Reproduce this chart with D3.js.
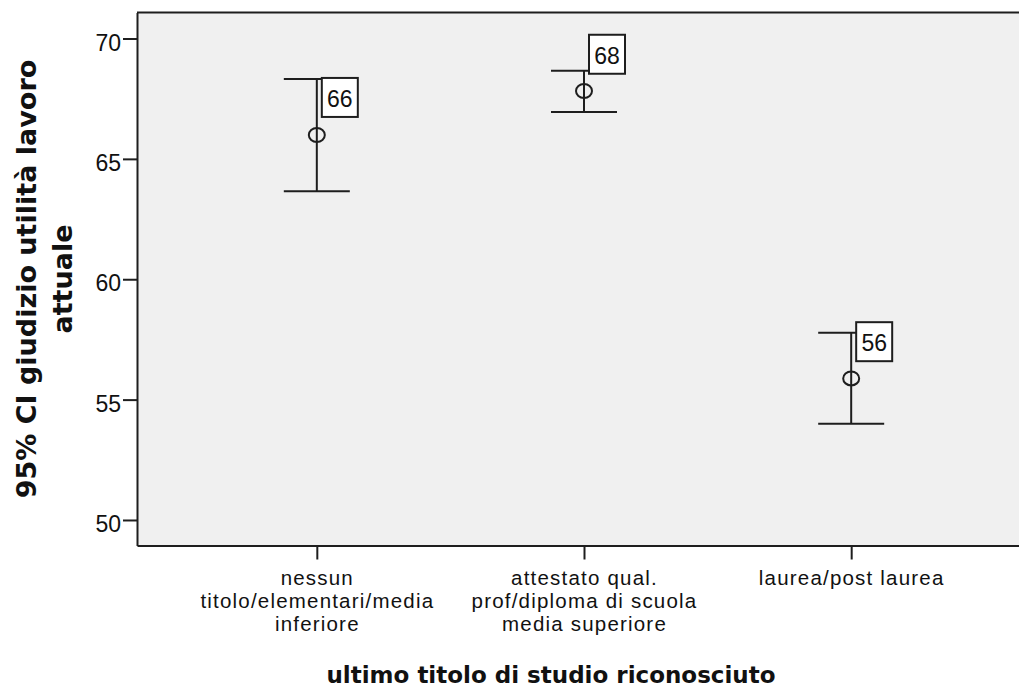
<!DOCTYPE html>
<html>
<head>
<meta charset="utf-8">
<script src="https://cdn.jsdelivr.net/npm/d3@7"></script>
<style>
  html, body { margin: 0; padding: 0; background: #ffffff; overflow: hidden; }
  svg { display: block; }
</style>
</head>
<body>
<script>
// ---- data ----
const categories = [
  "nessun\ntitolo/elementari/media\ninferiore",
  "attestato qual.\nprof/diploma di scuola\nmedia superiore",
  "laurea/post laurea"
];
const means   = [65.99, 67.82, 55.88];
const ciLower = [63.66, 66.95, 54.00];
const ciUpper = [68.32, 68.66, 57.78];
const yTicks  = [50, 55, 60, 65, 70];
const yTitleLines = ["95% CI giudizio utilità lavoro", "attuale"];
const xTitle = "ultimo titolo di studio riconosciuto";

// ---- layout ----
const W = 1019, H = 688;
const pLeft = 137, pRight = 1031, pTop = 12.5, pBottom = 545.5;
const lineColor = "#1e1e1e";
const textColor = "#111";
const tickFont = "'Liberation Sans', Arial, sans-serif";
const titleFont = "'DejaVu Sans', Verdana, sans-serif";
const labelBoxDy = [-1, -36, -10.5];

const svg = d3.select("body").append("svg").attr("width", W).attr("height", H);

const y = d3.scaleLinear().domain([48.94, 71.08]).range([pBottom, pTop]);
const x = d3.scalePoint().domain(categories).range([pLeft, pRight]).padding(0.673);

// plot background
svg.append("rect")
  .attr("x", pLeft).attr("y", pTop)
  .attr("width", pRight - pLeft).attr("height", pBottom - pTop)
  .attr("fill", "#f0f0f0");
svg.append("line")
  .attr("x1", pLeft).attr("x2", pRight)
  .attr("y1", pTop).attr("y2", pTop)
  .attr("stroke", lineColor).attr("stroke-width", 2);

// y axis
const gy = svg.append("g").attr("transform", `translate(${pLeft},0)`)
  .call(d3.axisLeft(y).tickValues(yTicks).tickSize(14).tickSizeOuter(0).tickPadding(2));
gy.selectAll("path, line").attr("stroke", lineColor).attr("stroke-width", 2);
gy.selectAll("text")
  .attr("dy", "0.5em")
  .attr("fill", textColor)
  .style("font-family", tickFont).style("font-size", "23px");

// x axis
const gx = svg.append("g").attr("transform", `translate(0,${pBottom})`)
  .call(d3.axisBottom(x).tickSize(14).tickSizeOuter(0));
gx.selectAll("path, line").attr("stroke", lineColor).attr("stroke-width", 2);
gx.selectAll("text").each(function(d) {
  const t = d3.select(this);
  t.text(null).attr("y", 39.5).attr("dy", null)
    .attr("fill", textColor)
    .style("font-family", tickFont).style("font-size", "20.5px")
    .style("letter-spacing", "1.2px");
  d.split("\n").forEach((ln, i) => {
    t.append("tspan").attr("x", 0).attr("dy", i === 0 ? 0 : 23).text(ln);
  });
});

// error bars
const capHalf = 33;
const bars = svg.append("g").selectAll("g").data(categories).join("g");
bars.append("line")
  .attr("x1", d => x(d)).attr("x2", d => x(d))
  .attr("y1", (d, i) => y(ciLower[i])).attr("y2", (d, i) => y(ciUpper[i]))
  .attr("stroke", lineColor).attr("stroke-width", 2);
bars.append("line")
  .attr("x1", d => x(d) - capHalf).attr("x2", d => x(d) + capHalf)
  .attr("y1", (d, i) => y(ciUpper[i])).attr("y2", (d, i) => y(ciUpper[i]))
  .attr("stroke", lineColor).attr("stroke-width", 2);
bars.append("line")
  .attr("x1", d => x(d) - capHalf).attr("x2", d => x(d) + capHalf)
  .attr("y1", (d, i) => y(ciLower[i])).attr("y2", (d, i) => y(ciLower[i]))
  .attr("stroke", lineColor).attr("stroke-width", 2);
bars.append("ellipse")
  .attr("cx", d => x(d)).attr("cy", (d, i) => y(means[i]))
  .attr("rx", 8).attr("ry", 7)
  .attr("fill", "none").attr("stroke", lineColor).attr("stroke-width", 2);

// value labels
const boxW = 36, boxH = 39;
const lbl = bars.append("g")
  .attr("transform", (d, i) => `translate(${x(d) + 5},${y(ciUpper[i]) + labelBoxDy[i]})`);
lbl.append("rect")
  .attr("x", 0).attr("y", 0).attr("width", boxW).attr("height", boxH)
  .attr("fill", "#ffffff").attr("stroke", lineColor).attr("stroke-width", 2);
lbl.append("text")
  .attr("x", boxW / 2).attr("y", 29)
  .attr("text-anchor", "middle")
  .attr("fill", textColor)
  .style("font-family", tickFont).style("font-size", "23px")
  .text((d, i) => d3.format(".0f")(means[i]));

// y title
const yt = svg.append("text")
  .attr("transform", `translate(0,${(pTop + pBottom) / 2}) rotate(-90)`)
  .attr("text-anchor", "middle")
  .attr("fill", textColor)
  .style("font-family", titleFont).style("font-weight", "bold").style("font-size", "27px");
yTitleLines.forEach((ln, i) => {
  yt.append("tspan").attr("x", 0).attr("y", i === 0 ? 36 : 72).text(ln);
});

// x title
svg.append("text")
  .attr("x", 551).attr("y", 683)
  .attr("text-anchor", "middle")
  .attr("fill", textColor)
  .style("font-family", titleFont).style("font-weight", "bold").style("font-size", "23px")
  .text(xTitle);
</script>
</body>
</html>
